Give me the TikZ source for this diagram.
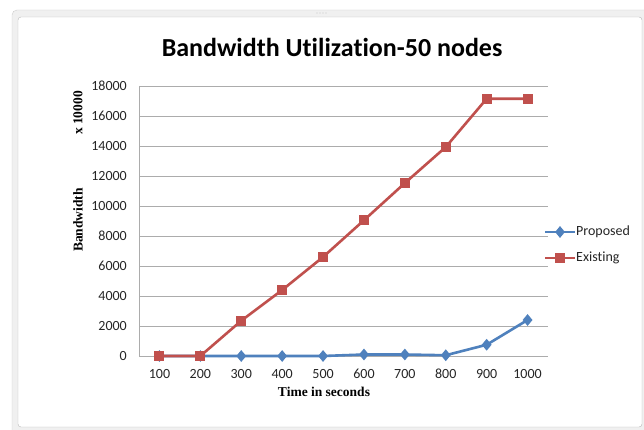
\documentclass[tikz,border=0pt]{standalone}
\usepackage{fontspec}
\setmainfont{Carlito}[Ligatures=NoCommon]
\newfontfamily\serifaxis{Liberation Serif}
\usetikzlibrary{arrows.meta,positioning,calc,shapes.geometric}

\definecolor{existred}{HTML}{C0504D}
\definecolor{propblue}{HTML}{4F81BD}

\begin{document}
\begin{tikzpicture}[
    x=1pt, y=-1pt,
    gridline/.style={draw=gray!65, line width=0.9pt},
    ticklabel/.style={font=\fontsize{14}{16}\selectfont, text=black!85, inner sep=0pt},
    axtitle/.style={font=\serifaxis\bfseries\fontsize{13.5}{15}\selectfont, inner sep=0pt},
    sqmark/.style={rectangle, fill=existred, minimum size=10pt, inner sep=0pt},
    dmmark/.style={diamond, fill=propblue, minimum width=10pt, minimum height=12pt, inner sep=0pt},
    existline/.style={existred, line width=2.6pt, line join=round},
    propline/.style={propblue, line width=2.6pt, line join=round}
  ]
  \useasboundingbox (0,0) rectangle (644,430);
  \clip (0,0) rectangle (644,430);

  % chart frame
  \draw[fill=gray!12, draw=gray!40, rounded corners=5pt] (12,10) rectangle (660,445);
  \draw[fill=white, draw=gray!55, rounded corners=3pt] (18,17) rectangle (642,427);
  \foreach \k in {0,...,3}
    \fill[gray!45] ({317+3*\k},13) circle (0.6pt);

  \node[font=\bfseries\fontsize{26}{29}\selectfont] (title) at (332,47) {Bandwidth Utilization-50 nodes};

  % grid and axes
  \foreach \k in {1,...,9}
    \draw[gridline] (139,{356-30*\k}) -- (548,{356-30*\k});
  \draw[gridline] (139,356) -- (548,356);
  \draw[gridline] (139,86) -- (139,356);

  \foreach \k in {0,...,9}
    \node[ticklabel, anchor=east] (yl\k) at (127,{356-30*\k}) {\the\numexpr 2000*\k\relax};
  \foreach \t [count=\i] in {100,200,...,1000}
    \node[ticklabel] (xl\i) at ({139+40.9*(\i-0.5)},374) {\t};

  \node[axtitle] (xtitle) at (324,392) {Time in seconds};
  \node[axtitle, rotate=90] (ytitle) at (78,220) {Bandwidth};
  \node[axtitle, rotate=90] (yscale) at (78,113) {x 10000};

  % Proposed (values in hundreds)
  \foreach \v [count=\i] in {0,0,0,0,0,1,1,0.5,7.5,24}
    \coordinate (p\i) at ({139+40.9*(\i-0.5)},{356-1.5*\v});
  \draw[propline] (p1) \foreach \i in {2,...,10} {-- (p\i)};
  \foreach \i in {1,...,10}
    \node[dmmark] (mp\i) at (p\i) {};

  % Existing (values in hundreds)
  \foreach \v [count=\i] in {0,0,23.5,44,66,90.5,115.3,139.3,171.5,171.5}
    \coordinate (e\i) at ({139+40.9*(\i-0.5)},{356-1.5*\v});
  \draw[existline] (e1) \foreach \i in {2,...,10} {-- (e\i)};
  \foreach \i in {1,...,10}
    \node[sqmark] (me\i) at (e\i) {};

  % legend
  \coordinate (lp1) at (545,232);
  \coordinate (lp2) at (575,232);
  \coordinate (le1) at (545,258);
  \coordinate (le2) at (575,258);
  \draw[propline] (lp1) -- (lp2);
  \node[dmmark] (lpm) at ($(lp1)!0.5!(lp2)$) {};
  \node[ticklabel, anchor=west, inner sep=1pt] (lptext) at (lp2) {Proposed};
  \draw[existline] (le1) -- (le2);
  \node[sqmark] (lem) at ($(le1)!0.5!(le2)$) {};
  \node[ticklabel, anchor=west, inner sep=1pt] (letext) at (le2) {Existing};
\end{tikzpicture}
\end{document}
